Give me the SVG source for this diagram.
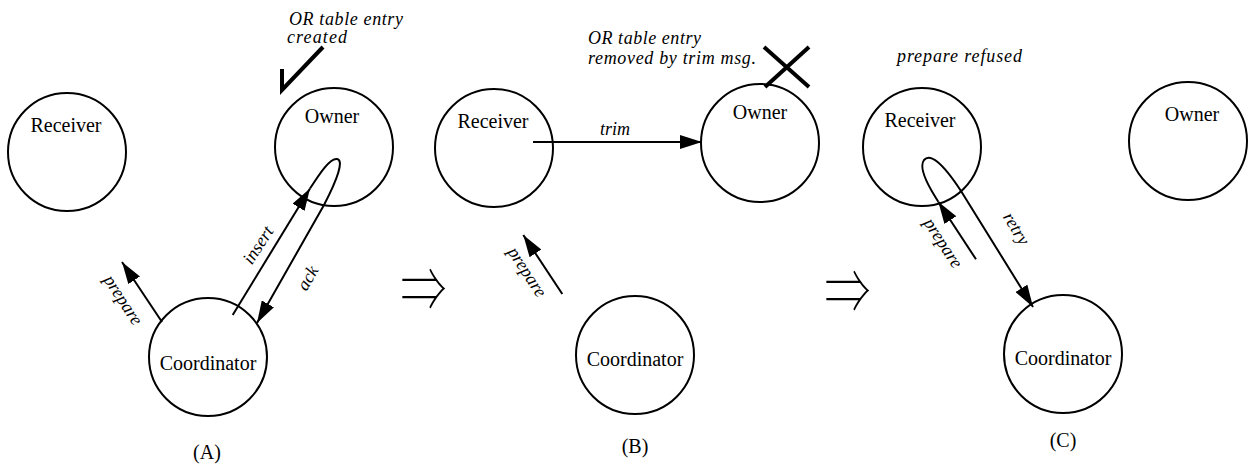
<svg xmlns="http://www.w3.org/2000/svg" width="1249" height="466" viewBox="0 0 1249 466">
<style>
.node{fill:#fff;stroke:#000;stroke-width:2}
.lbl{font-family:"Liberation Serif","Times New Roman",serif;font-size:20px;fill:#000;text-anchor:middle}
.it{font-family:"Liberation Serif","Times New Roman",serif;font-size:18px;font-style:italic;fill:#000}
.itc{font-family:"Liberation Serif","Times New Roman",serif;font-size:18px;font-style:italic;fill:#000;text-anchor:middle}
.conn{fill:none;stroke:#000;stroke-width:2}
.mark{fill:none;stroke:#000;stroke-width:4}
.dbl{font-family:"Noto Sans CJK JP","DejaVu Sans",sans-serif;font-size:46px;font-weight:100;fill:#000;text-anchor:middle}
</style>
<defs>
<marker id="ah" viewBox="0 0 22 14" refX="22" refY="7" markerWidth="22" markerHeight="14" markerUnits="userSpaceOnUse" orient="auto">
<path d="M0,0 L22,7 L0,14 z" fill="#000"/>
</marker>
</defs>
<rect width="1249" height="466" fill="#fff"/>

<g id="panelA-receiver"><circle class="node" cx="67" cy="152" r="59"/><text class="lbl" x="66" y="132">Receiver</text></g>
<g id="panelA-owner"><circle class="node" cx="334" cy="147" r="59"/><text class="lbl" x="332" y="123">Owner</text></g>
<g id="panelA-coordinator"><circle class="node" cx="208" cy="357" r="59"/><text class="lbl" x="208" y="370">Coordinator</text></g>

<g id="panelB-receiver"><circle class="node" cx="494" cy="148" r="59"/><text class="lbl" x="493" y="128">Receiver</text></g>
<g id="panelB-owner"><circle class="node" cx="760" cy="143" r="59"/><text class="lbl" x="760" y="119">Owner</text></g>
<g id="panelB-coordinator"><circle class="node" cx="635" cy="355" r="59"/><text class="lbl" x="635" y="366">Coordinator</text></g>

<g id="panelC-receiver"><circle class="node" cx="922" cy="147" r="59"/><text class="lbl" x="920" y="127">Receiver</text></g>
<g id="panelC-owner"><circle class="node" cx="1188" cy="141" r="59"/><text class="lbl" x="1192" y="121">Owner</text></g>
<g id="panelC-coordinator"><circle class="node" cx="1063" cy="354" r="59"/><text class="lbl" x="1063" y="365">Coordinator</text></g>

<g id="connectors">
<line class="conn" x1="162" y1="322" x2="122" y2="262" marker-end="url(#ah)"/>
<line class="conn" x1="232.7" y1="315" x2="310" y2="188.5" marker-end="url(#ah)"/>
<path class="conn" d="M310,188.5 C320,173 330,158 337,159 C344,160 338,178 324,205 L257,323" marker-end="url(#ah)"/>
<line class="conn" x1="533" y1="142" x2="702" y2="142" marker-end="url(#ah)"/>
<line class="conn" x1="562.3" y1="294" x2="523.3" y2="235" marker-end="url(#ah)"/>
<line class="conn" x1="976" y1="259.3" x2="938.3" y2="201.7" marker-end="url(#ah)"/>
<path class="conn" d="M938.3,201.7 C930,189 918,168 924,160 C930,153 942,162 961,191 L1033,307" marker-end="url(#ah)"/>
</g>

<g id="labels">
<text class="itc" transform="translate(120,302) rotate(57)" y="2">prepare</text>
<text class="itc" transform="translate(258,245) rotate(-57)" y="6">insert</text>
<text class="itc" transform="translate(307.5,278) rotate(-60)" y="6">ack</text>
<text class="itc" x="615" y="135">trim</text>
<text class="itc" transform="translate(524,274) rotate(57)" y="2">prepare</text>
<text class="itc" transform="translate(940,245) rotate(57)" y="2">prepare</text>
<text class="itc" transform="translate(1014,230) rotate(59)" y="3">retry</text>
</g>

<g id="annotations">
<text class="it" x="289" y="25" textLength="114">OR table entry</text>
<text class="it" x="287" y="43" textLength="60">created</text>
<polyline class="mark" points="282,69 282,90 323,47"/>
<text class="it" x="588" y="44" textLength="113">OR table entry</text>
<text class="it" x="588" y="64" textLength="168">removed by trim msg.</text>
<line class="mark" x1="764" y1="47" x2="809" y2="87"/>
<line class="mark" x1="765" y1="87" x2="809" y2="47"/>
<text class="it" x="897" y="62" textLength="125">prepare refused</text>
</g>

<g id="transitions">
<text class="dbl" transform="translate(423.5,288.5) scale(1,1.35)" x="0" y="17.5">⇒</text>
<text class="dbl" transform="translate(847.5,290.5) scale(1,1.35)" x="0" y="17.5">⇒</text>
</g>

<g id="captions">
<text class="lbl" x="207" y="459">(A)</text>
<text class="lbl" x="635" y="453">(B)</text>
<text class="lbl" x="1063" y="447">(C)</text>
</g>
</svg>
